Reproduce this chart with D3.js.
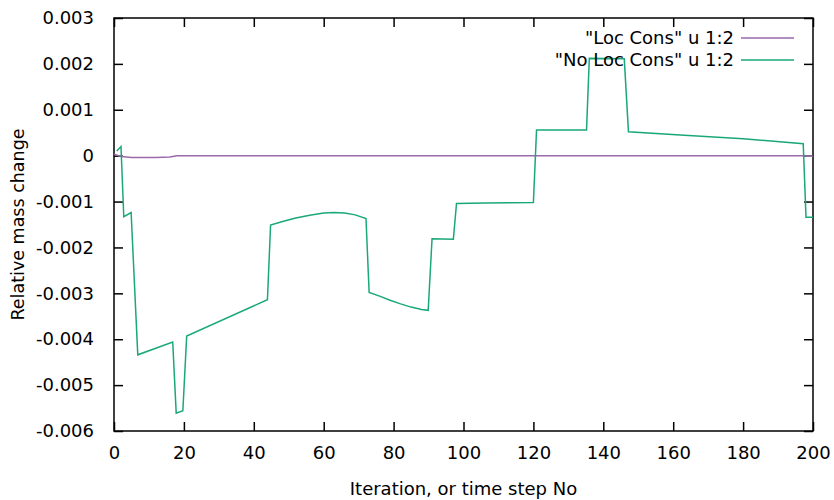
<!DOCTYPE html>
<html>
<head>
<meta charset="utf-8">
<script src="https://cdn.jsdelivr.net/npm/d3@7"></script>
<style>
  body { margin: 0; background: #fff; }
  svg { display: block; font-family: "DejaVu Sans", sans-serif; }
</style>
</head>
<body>
<svg id="chart" width="834" height="500"></svg>
<script>
// Data
const seriesNames = ['"Loc Cons" u 1:2', '"No Loc Cons" u 1:2'];
const locX = [0, 2, 5, 12, 16, 18, 60, 120, 197, 198, 200];
const locY = [0.00003, -0.00002, -0.00004, -0.00004, -0.00003, 0.0, 0.0, 0.0, 0.0, -0.00001, -0.00001];
const noLocX = [0.8, 2.0, 2.8, 4.9, 6.8, 16.8, 17.8, 19.7, 20.8, 43.9, 44.8, 48, 52, 56, 60, 63, 66, 69, 72.1, 73.0, 76, 79, 82, 85, 88, 89.9, 91.0, 97.1, 98.0, 106, 120, 120.9, 135.2, 136.0, 146.0, 147.2, 162, 180, 197.2, 198.0, 200];
const noLocY = [0.0001, 0.0002, -0.00133, -0.00124, -0.00434, -0.00406, -0.00561, -0.00556, -0.00393, -0.00314, -0.00151, -0.00144, -0.00136, -0.0013, -0.00125, -0.00124, -0.00125, -0.00129, -0.00137, -0.00298, -0.00306, -0.00315, -0.00323, -0.0033, -0.00335, -0.00337, -0.00181, -0.00182, -0.00104, -0.00103, -0.00102, 0.00056, 0.00056, 0.00212, 0.00211, 0.00052, 0.00045, 0.00037, 0.00026, -0.00134, -0.00134];
const xTicks = [0, 20, 40, 60, 80, 100, 120, 140, 160, 180, 200];
const yTicks = [0.003, 0.002, 0.001, 0, -0.001, -0.002, -0.003, -0.004, -0.005, -0.006];
const yTickLabels = ["0.003", "0.002", "0.001", "0", "-0.001", "-0.002", "-0.003", "-0.004", "-0.005", "-0.006"];
const colors = ["#9a6aaa", "#1aa87a"];

const svg = d3.select("#chart");
const L = 114, R = 813, T = 18, B = 431;
const x = d3.scaleLinear().domain([0, 200]).range([L, R]);
const y = d3.scaleLinear().domain([-0.006, 0.003]).range([B, T]);
const FS = 18;

const tickLen = 9;
const xb = svg.append("g").attr("transform", `translate(0,${B})`)
  .call(d3.axisBottom(x).tickValues(xTicks).tickSizeInner(-tickLen).tickSizeOuter(0).tickPadding(15));
const xt = svg.append("g").attr("transform", `translate(0,${T})`)
  .call(d3.axisTop(x).tickValues(xTicks).tickSizeInner(-tickLen).tickSizeOuter(0).tickFormat(""));
const yl = svg.append("g").attr("transform", `translate(${L},0)`)
  .call(d3.axisLeft(y).tickValues(yTicks).tickSizeInner(-tickLen).tickSizeOuter(0).tickPadding(20)
    .tickFormat((d, i) => yTickLabels[i]));
const yr = svg.append("g").attr("transform", `translate(${R},0)`)
  .call(d3.axisRight(y).tickValues(yTicks).tickSizeInner(-tickLen).tickSizeOuter(0).tickFormat(""));
[xb, xt, yl, yr].forEach(g => {
  g.select(".domain").remove();
  g.selectAll("line").attr("stroke", "#000").attr("stroke-width", 1.5);
  g.selectAll("text").attr("font-size", FS).attr("fill", "#000").attr("font-family", '"DejaVu Sans", sans-serif');
});
svg.append("rect").attr("x", L).attr("y", T).attr("width", R - L).attr("height", B - T)
  .attr("fill", "none").attr("stroke", "#000").attr("stroke-width", 1.5);

const line = d3.line().x(d => x(d[0])).y(d => y(d[1]));

svg.append("path").datum(locX.map((v, i) => [v, locY[i]]))
  .attr("d", line).attr("fill", "none").attr("stroke", colors[0]).attr("stroke-width", 1.5);
svg.append("path").datum(noLocX.map((v, i) => [v, noLocY[i]]))
  .attr("d", line).attr("fill", "none").attr("stroke", colors[1]).attr("stroke-width", 1.5);

const legY = [38, 60];
seriesNames.forEach((n, i) => {
  svg.append("text").attr("x", 734).attr("y", legY[i]).attr("dy", "0.35em")
    .attr("text-anchor", "end").attr("font-size", FS).text(n);
  svg.append("line").attr("x1", 741).attr("x2", 794).attr("y1", legY[i]).attr("y2", legY[i])
    .attr("stroke", colors[i]).attr("stroke-width", 1.5);
});

svg.append("text").attr("x", (L + R) / 2).attr("y", 495).attr("text-anchor", "middle")
  .attr("font-size", FS).text("Iteration, or time step No");
svg.append("text").attr("transform", `translate(24,${(T + B) / 2}) rotate(-90)`)
  .attr("text-anchor", "middle").attr("font-size", 17.5).text("Relative mass change");
</script>
</body>
</html>
